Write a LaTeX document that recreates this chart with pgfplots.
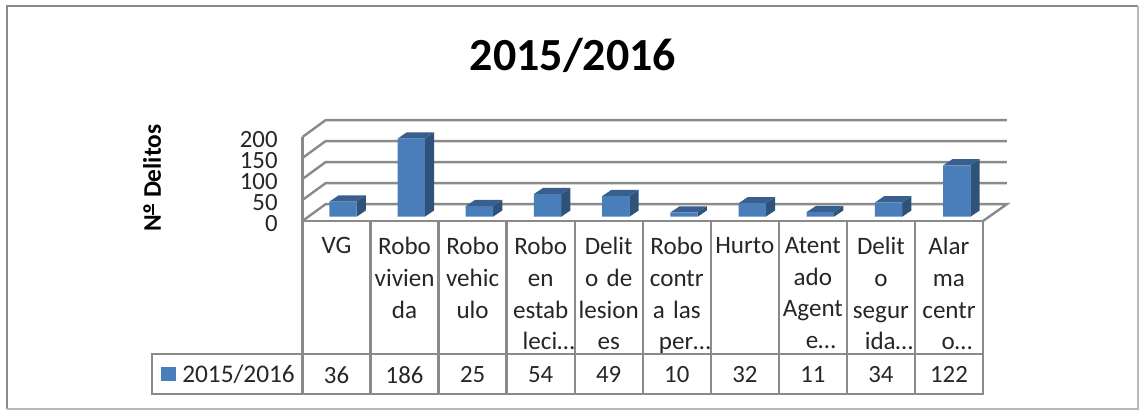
\documentclass[border=0pt]{standalone}
\usepackage{pgfplots}
\pgfplotsset{compat=1.18}
\usepackage{pgfplotstable}
\usepackage{fontspec}
\setmainfont{Carlito}
\definecolor{front}{HTML}{4A7EBB}
\definecolor{sidef}{HTML}{2F5279}
\definecolor{topf}{HTML}{385F8E}
\definecolor{gridc}{HTML}{8A8A8A}
\definecolor{txt}{HTML}{262626}
\pgfplotstableread{
x v rowy
0.5 36 -366
1.5 186 -366
2.5 25 -366
3.5 54 -366
4.5 49 -366
5.5 10 -366
6.5 32 -366
7.5 11 -366
8.5 34 -366
9.5 122 -366
}\datatable
\newcommand\threedbar[2]{%
  \pgfmathsetmacro\xl{#1-0.2}\pgfmathsetmacro\xr{#1+0.2}%
  \pgfmathsetmacro\xrd{#1+0.335}\pgfmathsetmacro\xld{#1-0.065}%
  \pgfmathsetmacro\vd{#2+14.8}%
  \edef\temp{\noexpand\addplot[fill=sidef,draw=none,mark=none,forget plot] coordinates {(\xr,0) (\xr,#2) (\xrd,\vd) (\xrd,14.8)} --cycle;
  \noexpand\addplot[fill=topf,draw=none,mark=none,forget plot] coordinates {(\xl,#2) (\xr,#2) (\xrd,\vd) (\xld,\vd)} --cycle;}\temp}
\begin{document}
\begin{tikzpicture}[x=1pt,y=1pt]
\def\PX#1{(#1)*0.75}\def\PY#1{(410-(#1))*0.75}
\useasboundingbox (0,0) rectangle (854.25,307.5);
% outer frame
\draw[gridc,line width=1.6pt] ({\PX{7}},{\PY{409}}) -- ({\PX{7}},{\PY{6}}) -- ({\PX{1138}},{\PY{6}});
\draw[gray!55,line width=1pt] ({\PX{7}},{\PY{409}}) -- ({\PX{1138}},{\PY{409}}) -- ({\PX{1138}},{\PY{6}});
% title
\node[font=\fontsize{34.5pt}{40pt}\selectfont\bfseries,text=black] at ({\PX{573}},{\PY{55}}) {2015/2016};
\node[font=\fontsize{19pt}{22pt}\selectfont\bfseries,text=black,rotate=90] at ({\PX{152}},{\PY{178}}) {N{\setbox0\hbox{º}\rlap{\rule[0.27em]{\wd0}{0.07em}}\box0} Delitos};
% data table lines
\foreach \i in {0,...,10}{
  \draw[gridc,line width=1.8pt] ({\PX{302.5+68.05*\i}},{\PY{221}}) -- ({\PX{302.5+68.05*\i}},{\PY{394}});
}
\draw[gridc,line width=1.8pt] ({\PX{152}},{\PY{354}}) rectangle ({\PX{983}},{\PY{394}});
\fill[front] ({\PX{161}},{\PY{367}}) rectangle ({\PX{176}},{\PY{381}});
\node[anchor=west,inner sep=0pt,text=txt,font=\fontsize{19pt}{23.8pt}\selectfont] at ({\PX{182}},{\PY{374}}) {2015/2016};
% walls, floor, labels
\begin{axis}[
  at={(226.875pt,141.75pt)},anchor=south west,
  scale only axis,width=510.375pt,height=63pt,
  xmin=0,xmax=10,ymin=0,ymax=200,clip=false,
  axis line style={draw=none},tick style={draw=none},
  ytick={0,50,100,150,200},
  xtick={0.5,1.5,2.5,3.5,4.5,5.5,6.5,7.5,8.5,9.5},
  xticklabels={VG,{Robo\\vivien\\da},{Robo\\vehic\\ulo},{Robo\\en\\estab\\\hspace*{12pt}leci…},{Delit\\o de\\lesion\\es},{Robo\\contr\\a las\\\hspace*{12pt}per…},Hurto,{Atent\\ado\\Agent\\\hspace*{12pt}e…},{Delit\\o\\segur\\\hspace*{12pt}ida…},{Alar\\ma\\centr\\\hspace*{12pt}o…}},
  /pgf/number format/assume math mode=true,
  yticklabel style={font=\fontsize{18.6pt}{18pt}\selectfont,text=txt,inner sep=0pt},
  major tick length=0pt,
  y tick label style={xshift=-18.5pt,yshift=-2pt},
  xticklabel style={font=\fontsize{18.8pt}{23.8pt}\selectfont,text=txt,text width=51pt,align=center,anchor=north,inner sep=0pt,yshift=-12pt},
]
\addplot[gridc,line width=1.8pt,mark=none,forget plot] coordinates {(0,0) (0,200)};
\addplot[gridc,line width=1.8pt,mark=none,forget plot] coordinates {(0,200) (0.338,240) (10.35,240)};
\addplot[gridc,line width=1.8pt,mark=none,forget plot] coordinates {(0,150) (0.338,190) (10.35,190)};
\addplot[gridc,line width=1.8pt,mark=none,forget plot] coordinates {(0,100) (0.338,140) (10.35,140)};
\addplot[gridc,line width=1.8pt,mark=none,forget plot] coordinates {(0,50) (0.338,90) (10.35,90)};
\addplot[gridc,line width=1.8pt,mark=none,forget plot] coordinates {(0,0) (0.338,40) (10.35,40) (10,0)};
\addplot[gridc,line width=1.8pt,mark=none,forget plot] coordinates {(0,0) (10,0)};
\addplot[draw=none,mark=none,forget plot,nodes near coords,point meta=explicit,
  every node near coord/.append style={anchor=center,inner sep=0pt,text=txt,font=\fontsize{18.6pt}{20pt}\selectfont}]
  table[x=x,y=rowy,meta=v] {\datatable};
\end{axis}
% bars
\begin{axis}[
  at={(231.675pt,144.975pt)},anchor=south west,
  scale only axis,width=511.5pt,height=63pt,
  xmin=0,xmax=10,ymin=0,ymax=200,clip=false,hide axis,
]
\threedbar{0.5}{36}
\threedbar{1.5}{186}
\threedbar{2.5}{25}
\threedbar{3.5}{54}
\threedbar{4.5}{49}
\threedbar{5.5}{10}
\threedbar{6.5}{32}
\threedbar{7.5}{11}
\threedbar{8.5}{34}
\threedbar{9.5}{122}
\addplot[ybar,bar width=20.55pt,bar shift=0pt,fill=front,draw=none,mark=none] table[x=x,y=v] {\datatable};
\end{axis}
\end{tikzpicture}
\end{document}
